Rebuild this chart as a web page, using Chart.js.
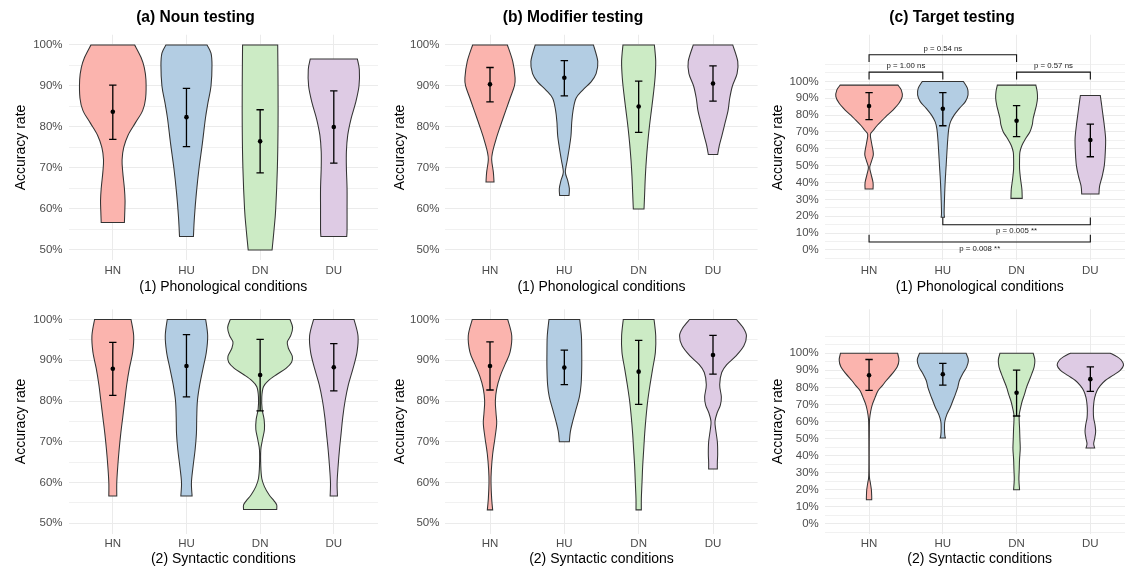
<!DOCTYPE html>
<html>
<head>
<meta charset="utf-8">
<script src="https://cdn.jsdelivr.net/npm/chart.js@4.4.1/dist/chart.umd.min.js"></script>
<style>
    html, body { margin: 0; padding: 0; background: #fff; width: 1125px; height: 568px; overflow: hidden; position: relative; }
    canvas { position: absolute; }
</style>
</head>
<body>
<canvas id="nounPhonChart" width="391" height="296" style="left:0px;top:0px"></canvas>
<canvas id="modPhonChart" width="386" height="296" style="left:380px;top:0px"></canvas>
<canvas id="targetPhonChart" width="384" height="296" style="left:760px;top:0px"></canvas>
<canvas id="nounSynChart" width="391" height="294" style="left:0px;top:274px"></canvas>
<canvas id="modSynChart" width="386" height="294" style="left:380px;top:274px"></canvas>
<canvas id="targetSynChart" width="384" height="294" style="left:760px;top:274px"></canvas>
<script>
// --- Data (accuracy in %) ---
const categories = ['HN', 'HU', 'DN', 'DU'];
const violinColors = ['#FBB4AE', '#B3CDE3', '#CCEBC5', '#DECBE4'];

const accuracyLabels = [50, 60, 70, 80, 90, 100];
const accuracyGrid = [50, 55, 60, 65, 70, 75, 80, 85, 90, 95, 100];
const targetLabels = [0, 10, 20, 30, 40, 50, 60, 70, 80, 90, 100];
const targetGrid = [-5, 0, 5, 10, 15, 20, 25, 30, 35, 40, 45, 50, 55, 60, 65, 70, 75, 80, 85, 90, 95, 100, 105, 110];

// violin profiles: [accuracy, relative density], top to bottom, one per category
const nounPhonDensity = [
    [[100, 0.66], [97, 0.85], [94.5, 0.95], [91.5, 1.0], [87, 0.99], [84, 0.9], [81, 0.68], [78, 0.46], [75, 0.33], [72, 0.28], [69, 0.3], [65, 0.35], [62, 0.37], [59, 0.36], [56.7, 0.35]],
    [[100, 0.62], [98, 0.74], [95, 0.77], [90, 0.74], [86, 0.65], [82, 0.57], [76, 0.48], [70, 0.38], [64, 0.3], [58, 0.24], [53.3, 0.21]],
    [[100, 0.53], [90, 0.54], [80, 0.54], [70, 0.52], [60, 0.47], [55, 0.42], [50, 0.36]],
    [[96.6, 0.71], [94, 0.77], [90, 0.76], [86, 0.66], [82, 0.52], [78, 0.42], [74, 0.38], [70, 0.38], [65, 0.4], [60, 0.4], [55, 0.4], [53.3, 0.39]]
];
const nounPhonMean = [83.7, 82.4, 76.5, 80.0];
const nounPhonLow = [77.0, 75.2, 68.8, 71.2];
const nounPhonHigh = [90.2, 89.4, 84.2, 88.8];

const modPhonDensity = [
    [[100, 0.52], [96, 0.68], [92, 0.75], [90, 0.73], [87, 0.6], [84, 0.47], [80, 0.3], [77, 0.18], [74, 0.08], [72, 0.05], [69, 0.1], [66.6, 0.12]],
    [[100, 0.87], [96, 1.0], [93, 0.95], [91, 0.8], [89, 0.55], [87, 0.35], [84, 0.26], [81, 0.22], [78, 0.2], [75, 0.15], [72, 0.09], [69, 0.03], [67, 0.1], [65, 0.15], [63.3, 0.14]],
    [[100, 0.47], [96, 0.51], [92, 0.49], [88, 0.44], [84, 0.38], [80, 0.32], [76, 0.27], [72, 0.23], [68, 0.2], [64, 0.18], [60, 0.16]],
    [[100, 0.59], [96, 0.74], [93, 0.72], [90, 0.58], [87, 0.5], [84, 0.45], [81, 0.36], [78, 0.27], [75.5, 0.19], [73.3, 0.14]]
];
const modPhonMean = [90.4, 92.0, 85.0, 90.6];
const modPhonLow = [86.1, 87.6, 78.7, 86.3];
const modPhonHigh = [94.5, 96.2, 91.2, 94.9];

const targetPhonDensity = [
    [[97.8, 0.87], [95, 0.97], [91, 1.0], [87, 0.9], [83, 0.72], [80, 0.55], [77, 0.4], [74, 0.25], [71, 0.13], [68.5, 0.04], [63, 0.08], [57, 0.13], [53, 0.08], [49, 0.02], [45, 0.06], [40, 0.12], [36.2, 0.12]],
    [[100, 0.62], [96, 0.74], [92, 0.76], [88, 0.68], [84, 0.5], [80, 0.34], [76, 0.23], [72, 0.18], [66, 0.15], [60, 0.13], [50, 0.1], [40, 0.07], [30, 0.05], [22, 0.04], [19.4, 0.05]],
    [[97.8, 0.58], [94, 0.62], [90, 0.63], [86, 0.6], [82, 0.55], [78, 0.5], [74, 0.47], [70, 0.4], [66, 0.27], [62, 0.16], [58, 0.1], [54, 0.09], [48, 0.09], [42, 0.12], [36, 0.16], [30.6, 0.17]],
    [[91.7, 0.3], [86, 0.34], [80, 0.38], [74, 0.42], [66, 0.46], [58, 0.45], [50, 0.42], [44, 0.36], [38, 0.28], [33.2, 0.26]]
];
const targetPhonMean = [85.4, 83.8, 76.7, 65.2];
const targetPhonLow = [77.3, 73.7, 67.2, 55.3];
const targetPhonHigh = [93.3, 93.3, 85.6, 74.7];
const targetPhonComparisons = [['HN', 'DN', 'p = 0.54 ns'], ['HN', 'HU', 'p = 1.00 ns'], ['DN', 'DU', 'p = 0.57 ns'], ['HU', 'DU', 'p = 0.005 **'], ['HN', 'DU', 'p = 0.008 **']];
const targetPhonBracketLevels = [115.8, 105.5, 105.5, 15.0, 4.7];

const nounSynDensity = [
    [[100, 0.55], [96, 0.63], [92, 0.6], [88, 0.5], [84, 0.42], [80, 0.36], [76, 0.3], [72, 0.24], [68, 0.19], [64, 0.15], [60, 0.12], [56.7, 0.12]],
    [[100, 0.58], [96, 0.64], [92, 0.6], [88, 0.5], [84, 0.4], [80, 0.33], [76, 0.31], [72, 0.3], [68, 0.26], [64, 0.2], [60, 0.15], [56.7, 0.17]],
    [[100, 0.9], [98, 0.98], [96, 0.92], [94.5, 0.82], [93, 0.85], [91, 0.97], [89.5, 0.95], [88, 0.78], [86.5, 0.5], [85, 0.25], [83.5, 0.1], [81, 0.05], [78, 0.06], [75.5, 0.12], [73, 0.13], [70.5, 0.07], [68, 0.02], [64, 0.02], [61, 0.05], [59, 0.13], [57, 0.27], [55.5, 0.42], [54.5, 0.5], [53.4, 0.5]],
    [[100, 0.61], [96, 0.73], [92, 0.7], [88, 0.58], [84, 0.44], [80, 0.34], [76, 0.27], [72, 0.22], [68, 0.17], [64, 0.13], [60, 0.1], [56.7, 0.11]]
];
const nounSynMean = [87.9, 88.6, 86.4, 88.3];
const nounSynLow = [81.4, 81.0, 77.6, 82.5];
const nounSynHigh = [94.4, 96.3, 95.1, 94.1];

const modSynDensity = [
    [[100, 0.53], [96, 0.65], [92, 0.6], [89, 0.45], [86, 0.3], [83, 0.2], [80, 0.16], [77, 0.18], [74.5, 0.2], [71, 0.15], [67, 0.08], [63, 0.04], [60, 0.03], [56, 0.05], [53.3, 0.08]],
    [[100, 0.46], [96, 0.51], [92, 0.52], [88, 0.52], [84, 0.5], [81, 0.45], [78, 0.35], [75, 0.25], [72.5, 0.18], [70, 0.15]],
    [[100, 0.46], [96, 0.51], [92, 0.5], [88, 0.42], [84, 0.34], [80, 0.27], [76, 0.22], [72, 0.18], [68, 0.15], [64, 0.12], [60, 0.1], [56, 0.08], [53.3, 0.08]],
    [[100, 0.7], [98, 0.9], [96, 1.0], [93.5, 0.92], [91, 0.68], [89, 0.42], [87, 0.26], [84, 0.2], [81, 0.25], [79, 0.22], [77, 0.12], [75, 0.06], [73, 0.08], [70, 0.13], [67, 0.14], [65, 0.13], [63.3, 0.13]]
];
const modSynMean = [88.6, 88.2, 87.2, 91.3];
const modSynLow = [82.7, 84.0, 79.2, 86.6];
const modSynHigh = [94.5, 92.5, 94.9, 96.1];

const targetSynDensity = [
    [[100, 0.86], [96, 0.9], [92, 0.85], [88, 0.7], [84, 0.52], [81, 0.4], [78, 0.27], [74, 0.18], [70, 0.1], [66, 0.05], [62, 0.02], [58, 0.01], [40, 0.005], [28, 0.01], [24, 0.04], [20, 0.07], [16, 0.08], [14.2, 0.08]],
    [[100, 0.7], [96, 0.77], [92, 0.72], [88, 0.6], [84, 0.5], [80, 0.45], [76, 0.38], [72, 0.3], [68, 0.22], [64, 0.12], [60, 0.06], [56, 0.05], [52, 0.06], [50.3, 0.08]],
    [[100, 0.5], [96, 0.55], [92, 0.53], [88, 0.46], [84, 0.38], [80, 0.3], [76, 0.24], [72, 0.17], [68, 0.12], [64, 0.08], [60, 0.08], [56, 0.09], [50, 0.1], [44, 0.11], [38, 0.09], [32, 0.08], [26, 0.07], [20, 0.09]],
    [[100, 0.6], [98, 0.8], [96, 0.93], [93, 1.0], [90, 0.9], [87, 0.68], [84, 0.45], [81, 0.3], [78, 0.2], [74, 0.13], [70, 0.1], [66, 0.09], [62, 0.1], [58, 0.14], [54, 0.16], [50, 0.13], [47, 0.1], [44.5, 0.13]]
];
const targetSynMean = [87.1, 87.7, 76.8, 84.8];
const targetSynLow = [78.2, 81.3, 63.2, 77.6];
const targetSynHigh = [96.3, 94.0, 90.1, 92.0];

// --- Drawing helpers ---
const FONT = "'Liberation Sans', Arial, sans-serif";
const VIOLIN_HALF = 0.45;   // half of violin width, in category units
const CAP_HALF = 0.05;      // half of error bar cap width
const TIP = 4.3;            // bracket tip length, in % units

/**
 * Smooth curve (Catmull-Rom) through pixel points, starting from pts[0].
 */
function smoothTo(ctx, pts) {
    for (let i = 0; i < pts.length - 1; i++) {
        const p0 = pts[i - 1] || pts[i];
        const p1 = pts[i];
        const p2 = pts[i + 1];
        const p3 = pts[i + 2] || p2;
        ctx.bezierCurveTo(
            p1[0] + (p2[0] - p0[0]) / 6, p1[1] + (p2[1] - p0[1]) / 6,
            p2[0] - (p3[0] - p1[0]) / 6, p2[1] - (p3[1] - p1[1]) / 6,
            p2[0], p2[1]
        );
    }
}

/**
 * Plugin that draws violins, error bars and (optional) significance brackets.
 */
function makeViolinPlugin(density, low, high, comparisons, levels) {
    return {
        id: 'violins',
        beforeDatasetsDraw(chart) {
            const { ctx, scales: { x, y } } = chart;
            density.forEach((profile, i) => {
                const c = i + 1;
                const right = profile.map(([v, w]) => [x.getPixelForValue(c + w * VIOLIN_HALF), y.getPixelForValue(v)]);
                const left = profile.map(([v, w]) => [x.getPixelForValue(c - w * VIOLIN_HALF), y.getPixelForValue(v)]).reverse();
                ctx.save();
                ctx.beginPath();
                ctx.moveTo(left[left.length - 1][0], left[left.length - 1][1]);
                ctx.lineTo(right[0][0], right[0][1]);
                smoothTo(ctx, right);
                ctx.lineTo(left[0][0], left[0][1]);
                smoothTo(ctx, left);
                ctx.closePath();
                ctx.fillStyle = violinColors[i];
                ctx.fill();
                ctx.strokeStyle = '#333333';
                ctx.lineWidth = 1.05;
                ctx.stroke();
                ctx.restore();
            });

            // error bars
            ctx.save();
            ctx.strokeStyle = '#000';
            ctx.lineWidth = 1.3;
            low.forEach((lo, i) => {
                const c = i + 1;
                const px = x.getPixelForValue(c);
                const yLo = y.getPixelForValue(lo);
                const yHi = y.getPixelForValue(high[i]);
                const l = x.getPixelForValue(c - CAP_HALF);
                const r = x.getPixelForValue(c + CAP_HALF);
                ctx.beginPath();
                ctx.moveTo(px, yLo); ctx.lineTo(px, yHi);
                ctx.moveTo(l, yLo); ctx.lineTo(r, yLo);
                ctx.moveTo(l, yHi); ctx.lineTo(r, yHi);
                ctx.stroke();
            });
            ctx.restore();
        },
        afterDatasetsDraw(chart) {
            if (!comparisons) return;
            const { ctx, scales: { x, y } } = chart;
            ctx.save();
            ctx.strokeStyle = '#111';
            ctx.lineWidth = 1.1;
            ctx.fillStyle = '#222';
            ctx.font = `7.8px ${FONT}`;
            ctx.textAlign = 'center';
            ctx.textBaseline = 'middle';
            comparisons.forEach(([from, to, label], k) => {
                const level = levels[k];
                const down = level > 50;
                const tipEnd = down ? level - TIP : level + TIP;
                const x1 = x.getPixelForValue(categories.indexOf(from) + 1);
                const x2 = x.getPixelForValue(categories.indexOf(to) + 1);
                const yl = y.getPixelForValue(level);
                const yt = y.getPixelForValue(tipEnd);
                ctx.beginPath();
                ctx.moveTo(x1, yt); ctx.lineTo(x1, yl); ctx.lineTo(x2, yl); ctx.lineTo(x2, yt);
                ctx.stroke();
                ctx.fillText(label, (x1 + x2) / 2, down ? yl - 6 : yl + 6.5);
            });
            ctx.restore();
        }
    };
}

/**
 * Creates one violin panel.
 */
function createViolinChart(canvasId, p) {
    const ctx = document.getElementById(canvasId).getContext('2d');
    const plugins = { legend: { display: false }, tooltip: { enabled: false } };
    if (p.title) {
        plugins.title = {
            display: true, text: p.title, color: '#000',
            font: { size: 15.6, weight: 'bold', family: FONT, lineHeight: 1.2 },
            padding: { top: 8.6, bottom: 7.4 }
        };
    }
    return new Chart(ctx, {
        type: 'scatter',
        data: {
            datasets: [{
                data: p.mean.map((m, i) => ({ x: i + 1, y: m })),
                pointRadius: 2.3,
                pointBackgroundColor: '#000',
                pointBorderWidth: 0,
                showLine: false
            }]
        },
        options: {
            responsive: false,
            animation: false,
            events: [],
            layout: { padding: { top: p.title ? 0 : 35.3, right: p.pad, left: p.pad, bottom: 0 } },
            scales: {
                x: {
                    type: 'linear', min: 0.4, max: 4.6,
                    afterBuildTicks: s => { s.ticks = categories.map((c, i) => ({ value: i + 1 })); },
                    afterFit: s => { s.height = p.bottomH; },
                    grid: { color: '#ebebeb', lineWidth: 1, drawTicks: false },
                    border: { display: false },
                    ticks: {
                        callback: v => categories[v - 1], color: '#4d4d4d', padding: 3.5,
                        font: { size: 11.5, family: FONT, lineHeight: 1.2 }, maxRotation: 0, autoSkip: false
                    },
                    title: {
                        display: true, text: p.xTitle, color: '#000',
                        font: { size: 14, family: FONT, lineHeight: 1.2 }, padding: { top: 0, bottom: 0.6 }
                    }
                },
                y: {
                    min: p.yMin, max: p.yMax,
                    afterBuildTicks: s => { s.ticks = p.grid.map(v => ({ value: v })); },
                    afterFit: s => { s.width = p.leftW; },
                    grid: {
                        color: '#ebebeb', drawTicks: false,
                        lineWidth: c => (p.labels.includes(c.tick.value) ? 1 : 0.7)
                    },
                    border: { display: false },
                    ticks: {
                        callback: v => (p.labels.includes(v) ? v + '%' : ''), color: '#4d4d4d', padding: 6,
                        font: { size: 11.5, family: FONT, lineHeight: 1.2 }, autoSkip: false
                    },
                    title: {
                        display: true, text: 'Accuracy rate', color: '#000',
                        font: { size: 14, family: FONT, lineHeight: 1.2 }, padding: { top: p.yTitlePad, bottom: 0 }
                    }
                }
            },
            plugins: plugins
        },
        plugins: [makeViolinPlugin(p.density, p.low, p.high, p.comparisons, p.levels)]
    });
}

const phonTitle = '(1) Phonological conditions';
const synTitle = '(2) Syntactic conditions';

createViolinChart('nounPhonChart', {
    title: '(a) Noun testing', xTitle: phonTitle, density: nounPhonDensity, mean: nounPhonMean, low: nounPhonLow, high: nounPhonHigh,
    yMin: 47.5, yMax: 102.5, grid: accuracyGrid, labels: accuracyLabels, leftW: 55.6, pad: 13, yTitlePad: 0, bottomH: 35.75
});
createViolinChart('modPhonChart', {
    title: '(b) Modifier testing', xTitle: phonTitle, density: modPhonDensity, mean: modPhonMean, low: modPhonLow, high: modPhonHigh,
    yMin: 47.5, yMax: 102.5, grid: accuracyGrid, labels: accuracyLabels, leftW: 57, pad: 8.4, yTitlePad: 3.2, bottomH: 35.75
});
createViolinChart('targetPhonChart', {
    title: '(c) Target testing', xTitle: phonTitle, density: targetPhonDensity, mean: targetPhonMean, low: targetPhonLow, high: targetPhonHigh,
    comparisons: targetPhonComparisons, levels: targetPhonBracketLevels,
    yMin: -6.1, yMax: 127.7, grid: targetGrid, labels: targetLabels, leftW: 55.4, pad: 9.4, yTitlePad: 0.5, bottomH: 35.75
});
createViolinChart('nounSynChart', {
    xTitle: synTitle, density: nounSynDensity, mean: nounSynMean, low: nounSynLow, high: nounSynHigh,
    yMin: 47.5, yMax: 102.5, grid: accuracyGrid, labels: accuracyLabels, leftW: 55.6, pad: 13, yTitlePad: 0, bottomH: 34.5
});
createViolinChart('modSynChart', {
    xTitle: synTitle, density: modSynDensity, mean: modSynMean, low: modSynLow, high: modSynHigh,
    yMin: 47.5, yMax: 102.5, grid: accuracyGrid, labels: accuracyLabels, leftW: 57, pad: 8.4, yTitlePad: 3.2, bottomH: 34.5
});
createViolinChart('targetSynChart', {
    xTitle: synTitle, density: targetSynDensity, mean: targetSynMean, low: targetSynLow, high: targetSynHigh,
    yMin: -5.6, yMax: 125.7, grid: targetGrid, labels: targetLabels, leftW: 55.4, pad: 9.4, yTitlePad: 0.5, bottomH: 34.5
});
</script>
</body>
</html>
